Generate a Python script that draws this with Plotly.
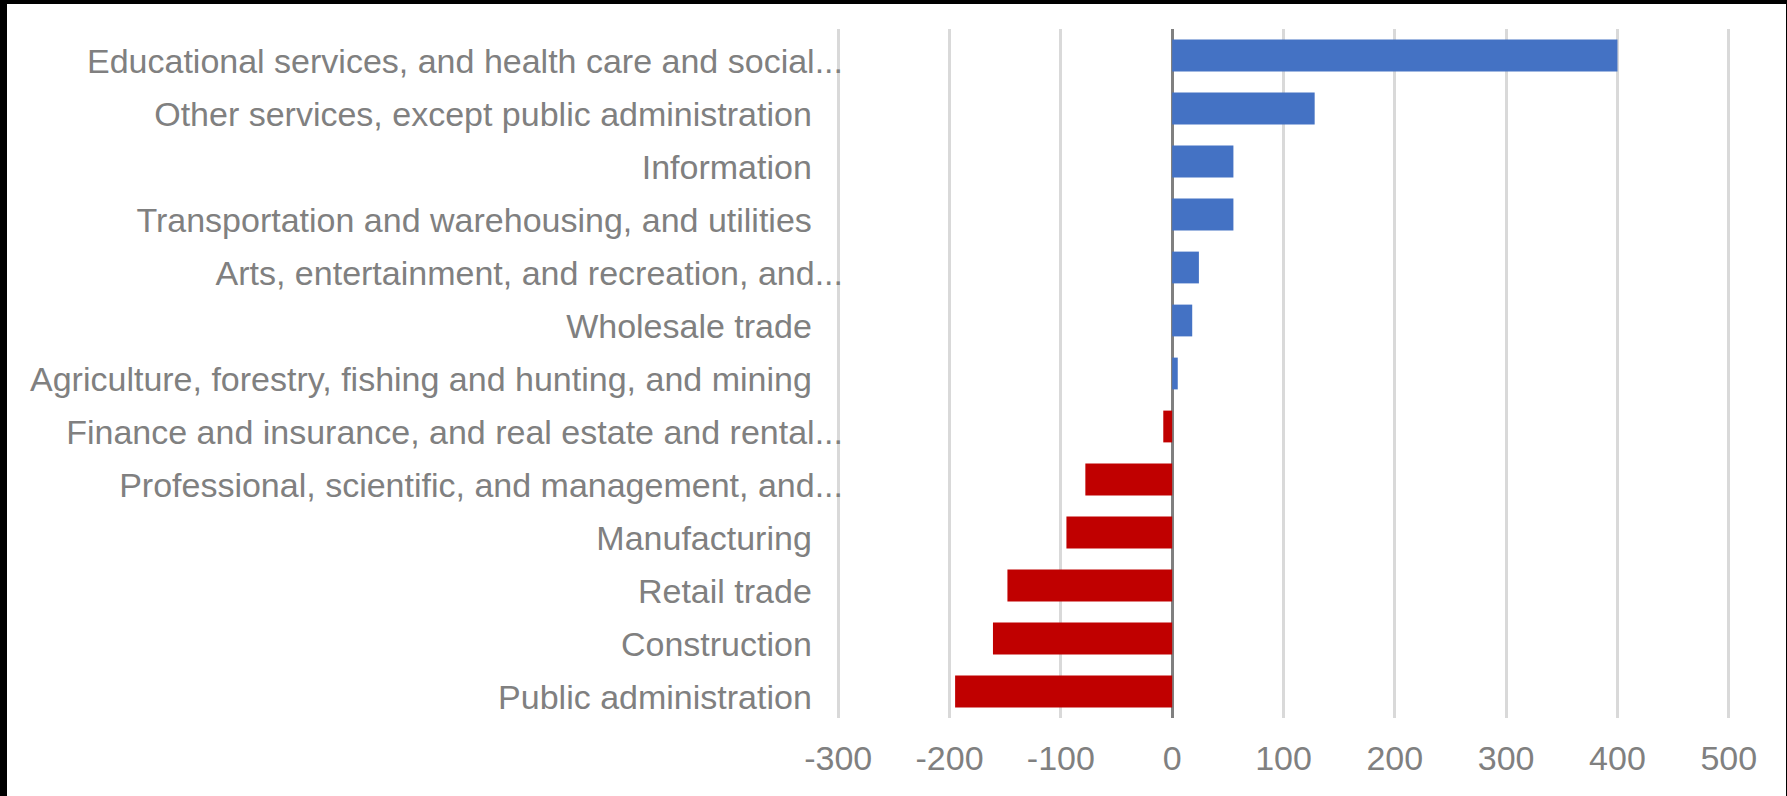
import plotly.graph_objects as go

categories = [
    "Educational services, and health care and social...",
    "Other services, except public administration",
    "Information",
    "Transportation and warehousing, and utilities",
    "Arts, entertainment, and recreation, and...",
    "Wholesale trade",
    "Agriculture, forestry, fishing and hunting, and mining",
    "Finance and insurance, and real estate and rental...",
    "Professional, scientific, and management, and...",
    "Manufacturing",
    "Retail trade",
    "Construction",
    "Public administration",
]
values = [400, 128, 55, 55, 24, 18, 5, -8, -78, -95, -148, -161, -195]

x_tick_values = [-300, -200, -100, 0, 100, 200, 300, 400, 500]
x_tick_labels = ["-300", "-200", "-100", "0", "100", "200", "300", "400", "500"]

POS = "#4472C4"
NEG = "#C00000"
colors = [POS if v >= 0 else NEG for v in values]

pad_space = "\u00a0\u00a0\u00a0\u200a"
ticktext = [c if c.endswith("...") else c + pad_space for c in categories]

W, H = 1787, 796
ML, MR, MT, MB = 836, 56, 29, 78

fig = go.Figure(
    go.Bar(
        x=values,
        y=categories,
        orientation="h",
        marker=dict(color=colors, line=dict(width=0)),
        hoverinfo="x+y",
    )
)

fig.update_layout(
    width=W,
    height=H,
    margin=dict(l=ML, r=MR, t=MT, b=MB, pad=0, autoexpand=False),
    paper_bgcolor="white",
    plot_bgcolor="white",
    showlegend=False,
    bargap=0.4,
    font=dict(family="Liberation Sans, Arial, sans-serif", size=34, color="#808080"),
    xaxis=dict(
        range=[-302, 502],
        tickvals=x_tick_values,
        ticktext=x_tick_labels,
        showgrid=True,
        gridcolor="#D9D9D9",
        gridwidth=3,
        zeroline=True,
        zerolinecolor="#808080",
        zerolinewidth=3,
        showline=False,
        ticks="",
        ticklabelstandoff=17,
        automargin=False,
        fixedrange=True,
    ),
    yaxis=dict(
        categoryorder="array",
        categoryarray=categories,
        tickvals=categories,
        ticktext=ticktext,
        autorange="reversed",
        showgrid=False,
        zeroline=False,
        showline=False,
        ticks="",
        ticklabelstandoff=-8,
        ticklabelshift=-6,
        automargin=False,
        fixedrange=True,
    ),
)

# black frame edges seen in the reference screenshot
def px_x(p):
    return (p - ML) / (W - ML - MR)

def px_y(p):
    return (H - MB - p) / (H - MT - MB)

frame = [(0, 0, 7, H), (0, 0, W, 4), (W - 1, 0, W, H)]
for x0, y0, x1, y1 in frame:
    fig.add_shape(
        type="rect", xref="paper", yref="paper",
        x0=px_x(x0), x1=px_x(x1), y0=px_y(y1), y1=px_y(y0),
        fillcolor="black", line=dict(width=0), layer="above",
    )

fig.write_html(
    "out.html",
    config={"displayModeBar": False},
    post_script="document.body.style.margin='0';document.body.style.overflow='hidden';",
)
